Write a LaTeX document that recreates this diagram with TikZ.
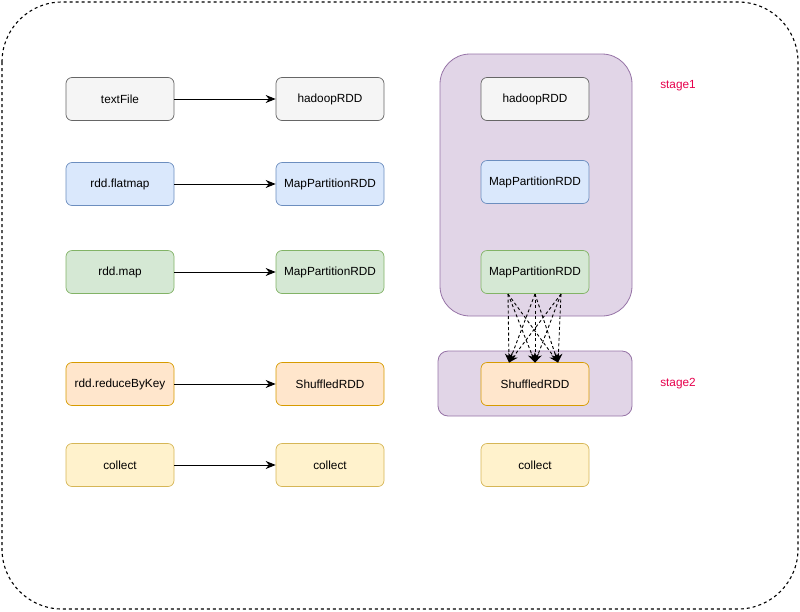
\documentclass[tikz,border=0pt]{standalone}
\usepackage{fontspec}
\setmainfont{Liberation Sans}
\usetikzlibrary{arrows.meta}
\definecolor{gfill}{HTML}{F5F5F5}\definecolor{gdraw}{HTML}{666666}
\definecolor{bfill}{HTML}{DAE8FC}\definecolor{bdraw}{HTML}{6C8EBF}
\definecolor{nfill}{HTML}{D5E8D4}\definecolor{ndraw}{HTML}{82B366}
\definecolor{ofill}{HTML}{FFE6CC}\definecolor{odraw}{HTML}{D79B00}
\definecolor{yfill}{HTML}{FFF2CC}\definecolor{ydraw}{HTML}{D6B656}
\definecolor{pfill}{HTML}{E1D5E7}\definecolor{pdraw}{HTML}{9673A6}
\definecolor{stagered}{HTML}{E6004C}
\begin{document}
\begin{tikzpicture}[x=1pt,y=-1pt,
  box/.style={draw, rounded corners=6pt, minimum width=108pt, minimum height=43pt, inner sep=0pt, font=\fontsize{11.8}{14}\selectfont, line width=0.7pt},
  gbox/.style={box, fill=gfill, draw=gdraw},
  bbox/.style={box, fill=bfill, draw=bdraw},
  nbox/.style={box, fill=nfill, draw=ndraw},
  obox/.style={box, fill=ofill, draw=odraw},
  ybox/.style={box, fill=yfill, draw=ydraw},
  conn/.style={draw, line width=0.9pt, -{Stealth[length=10pt,width=8pt]}},
  dconn/.style={draw, line width=0.9pt, dash pattern=on 3pt off 2.5pt, -{Stealth[length=9pt,width=8pt]}},
  stagelbl/.style={text=stagered, font=\fontsize{11.8}{14}\selectfont}
]
\useasboundingbox (0,0) rectangle (800,611);
\draw[line width=1.1pt, dash pattern=on 3pt off 3pt, rounded corners=60pt] (2,2) rectangle (798,609);

% stage backgrounds
\draw[fill=pfill, draw=pdraw, line width=0.8pt, rounded corners=30pt] (440,54) rectangle (632,316);
\draw[fill=pfill, draw=pdraw, line width=0.8pt, rounded corners=10pt] (438,351) rectangle (632,416);
\node[stagelbl] (s1) at (678,86) {stage1};
\node[stagelbl] (s2) at (678,384) {stage2};

% left column
\node[gbox] (a1) at (120,99) {textFile};
\node[bbox] (a2) at (120,184) {rdd.flatmap};
\node[nbox] (a3) at (120,272) {rdd.map};
\node[obox] (a4) at (120,384) {rdd.reduceByKey};
\node[ybox] (a5) at (120,465) {collect};
% middle column
\node[gbox] (b1) at (330,99) {hadoopRDD};
\node[bbox] (b2) at (330,184) {MapPartitionRDD};
\node[nbox] (b3) at (330,272) {MapPartitionRDD};
\node[obox] (b4) at (330,384) {ShuffledRDD};
\node[ybox] (b5) at (330,465) {collect};
% right column
\node[gbox] (c1) at (535,99) {hadoopRDD};
\node[bbox] (c2) at (535,182) {MapPartitionRDD};
\node[nbox] (c3) at (535,272) {MapPartitionRDD};
\node[obox] (c4) at (535,384) {ShuffledRDD};
\node[ybox] (c5) at (535,465) {collect};

\foreach \i in {1,...,5} {\draw[conn] (a\i) -- (b\i);}

% shuffle dependencies
\coordinate (p1) at (508,294);
\coordinate (p2) at (535,294);
\coordinate (p3) at (561,294);
\coordinate (q1) at (509,362.5);
\coordinate (q2) at (535,362.5);
\coordinate (q3) at (558,362.5);
\foreach \i in {1,2,3} {\foreach \j in {1,2,3} {\draw[dconn] (p\i) -- (q\j);}}
\end{tikzpicture}
\end{document}
